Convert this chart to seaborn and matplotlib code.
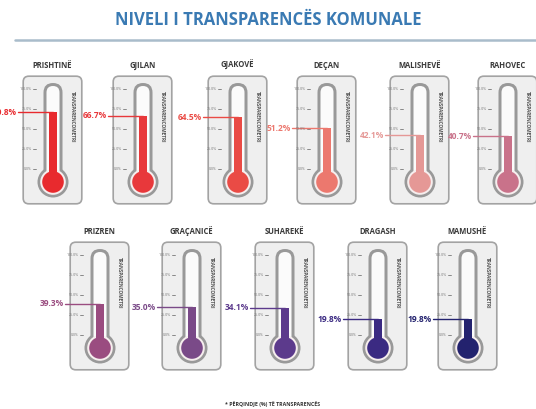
import matplotlib
matplotlib.use("Agg")
import matplotlib.pyplot as plt
import seaborn as sns
from matplotlib.patches import FancyBboxPatch, Circle, Rectangle

# datos
komunat = ["PRISHTINË", "GJILAN", "GJAKOVË", "DEÇAN", "MALISHEVË", "RAHOVEC",
           "PRIZREN", "GRAÇANICË", "SUHAREKË", "DRAGASH", "MAMUSHË"]
transparenca = [70.8, 66.7, 64.5, 51.2, 42.1, 40.7, 39.3, 35.0, 34.1, 19.8, 19.8]
shkalla = [0, 25, 50, 75, 100]
shkalla_labels = ["0.0%", "25.0%", "50.0%", "75.0%", "100.0%"]
ngjyrat = ["#e82a2e", "#e8383b", "#ea4b45", "#ec786e", "#e59896", "#c9728a",
           "#9a4c80", "#7a4a88", "#5c3a8c", "#3b2a82", "#23226e"]

# layout (pixels)
W, H = 536, 409
tube_x = [53, 143, 238, 327, 420, 508, 100, 192, 285, 378, 468]
card_top = [75] * 6 + [241] * 5
P = 1.25  # data units per pixel (100% = 80 px)

sns.set_theme(style="white")
plt.rcParams["font.family"] = ["Open Sans", "DejaVu Sans"]

fig = plt.figure(figsize=(W / 100, H / 100), dpi=100)
fig.patch.set_facecolor("white")

fig.text(0.5, 1 - 20 / H, "NIVELI I TRANSPARENCËS KOMUNALE", ha="center", va="center",
         fontsize=12, fontweight="bold", color="#3a7ab3")
fig.add_artist(plt.Line2D([15 / W, 1.0], [1 - 40 / H] * 2, color="#a9bccb", lw=1.8))
fig.text(273 / W, 1 - 404 / H, "* PËRQINDJE (%) TË TRANSPARENCËS", ha="center", va="center",
         fontsize=3.8, fontweight="bold", color="#333333")

card_w, card_h = 61, 130
left_off = 31
ymin, ymax = -45, 117.5
bulb_y = -16.25
tube_top = 107.5

for i, (name, val, col) in enumerate(zip(komunat, transparenca, ngjyrat)):
    x0 = tube_x[i] - left_off
    y_top = card_top[i]
    ax = fig.add_axes([x0 / W, 1 - (y_top + card_h) / H, card_w / W, card_h / H])
    xl, xr = -left_off * P, (card_w - left_off) * P

    # karta
    ax.add_patch(FancyBboxPatch((xl + 1.5, ymin + 1.5), xr - xl - 3, ymax - ymin - 3,
                                boxstyle="round,pad=0,rounding_size=7",
                                fc="#efefef", ec="#a3a3a3", lw=1.2, zorder=0.1, clip_on=False))
    # termometri
    ax.add_patch(FancyBboxPatch((-9.5 * P, bulb_y), 19 * P, tube_top - bulb_y,
                                boxstyle="round,pad=0,rounding_size=%f" % (9.5 * P),
                                fc="#999999", ec="none", zorder=0.2))
    ax.add_patch(Circle((0, bulb_y), 15.5 * P, fc="#999999", ec="none", zorder=0.2))
    ax.add_patch(FancyBboxPatch((-6.5 * P, bulb_y), 13 * P, tube_top - 3 * P - bulb_y,
                                boxstyle="round,pad=0,rounding_size=%f" % (6.5 * P),
                                fc="#fbfbfb", ec="none", zorder=0.3))
    ax.add_patch(Circle((0, bulb_y), 12.8 * P, fc="#f6eeee", ec="none", zorder=0.3))
    ax.add_patch(Rectangle((-4 * P, bulb_y), 8 * P, -bulb_y, fc=col, ec="none", zorder=0.5))
    ax.add_patch(Circle((0, bulb_y), 10.8 * P, fc=col, ec="none", zorder=1.5))

    sns.barplot(x=[name], y=[val], color=col, width=8 * P, linewidth=0, saturation=1, ax=ax)

    # shkalla
    for v, lab in zip(shkalla, shkalla_labels):
        ax.plot([-20 * P, -17 * P], [v, v], color="#777777", lw=0.6)
        ax.text(-21 * P, v, lab, ha="right", va="center", fontsize=2.6, color="#777777")
    ax.text(19 * P, 65, "TRANSPARENCOMETRI", rotation=-90, ha="center", va="center",
            fontsize=3.4, fontweight="bold", color="#555555")

    # emri
    ax.text((xl + xr) / 2, ymax + 10 * P, name, ha="center", va="center",
            fontsize=5.5, fontweight="bold", color="#3a3a3a", clip_on=False)

    # etiketa e vleres
    ax.plot([xl - 4 * P, 0], [val, val], color=col, lw=1, clip_on=False, zorder=2)
    ax.text(xl - 5 * P, val, f"{val:.1f}%", ha="right", va="center", fontsize=6,
            fontweight="bold", color=col, clip_on=False)

    ax.set_xlim(xl, xr)
    ax.set_ylim(ymin, ymax)
    ax.axis("off")

fig.savefig("out.png", dpi=100)
